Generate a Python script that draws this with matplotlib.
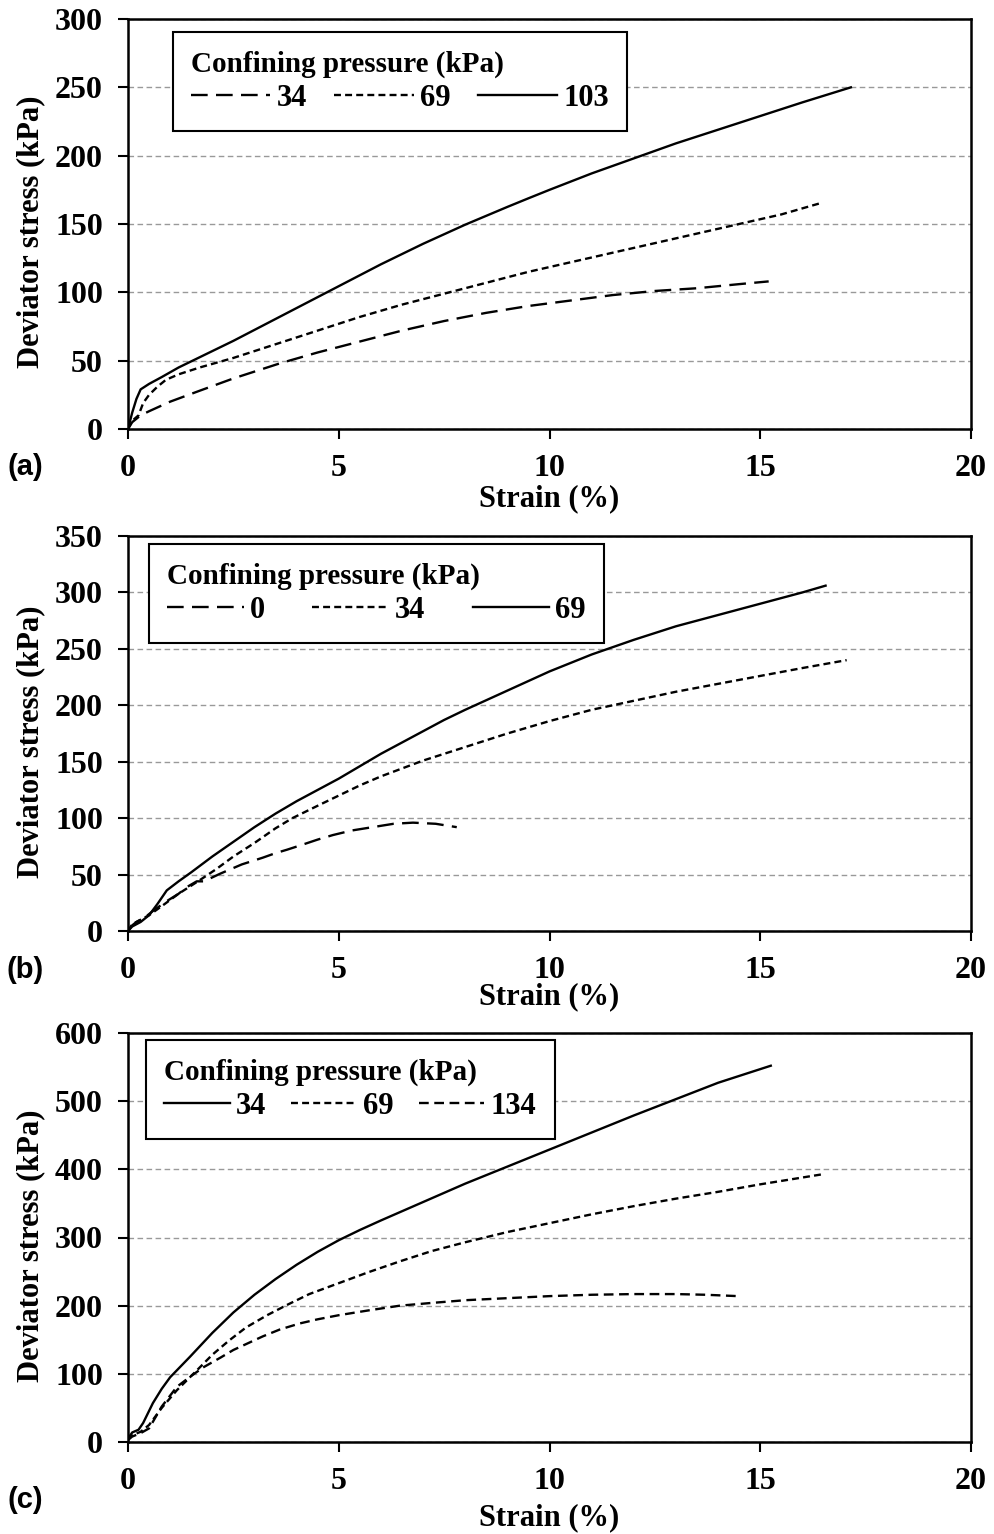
import matplotlib
matplotlib.use('agg')
import matplotlib.pyplot as plt

plt.rcParams['font.family'] = ['Liberation Serif', 'DejaVu Serif']
plt.rcParams['font.weight'] = 'bold'
plt.rcParams['axes.labelweight'] = 'bold'
plt.rcParams['lines.scale_dashes'] = False

# panel (a): confining pressure 34 / 69 / 103 kPa
a34_x = [0, 0.1, 0.3, 0.5, 1, 1.7, 2.5, 3.6, 4.5, 5.5, 6.5, 7.5, 8.5, 9.5, 10.5, 11.5, 12.5, 13.5, 14.5, 15.2]
a34_y = [0, 5, 10, 13, 20, 28, 37, 48, 56, 64, 72, 79, 85, 90, 94, 98, 101, 103, 106, 108]
a69_x = [0, 0.1, 0.25, 0.36, 0.5, 0.7, 0.9, 1.2, 1.7, 2.5, 3.5, 4.5, 5.5, 6.5, 7.5, 8.5, 9.5, 10.5,
         11.5, 12.5, 13.5, 14.5, 15.5, 16.4]
a69_y = [0, 6, 10, 19, 25, 31, 36, 40, 45, 52, 62, 72, 82, 91, 99, 107, 115, 122,
         129, 136, 143, 150, 157, 165]
a103_x = [0, 0.1, 0.2, 0.3, 0.5, 0.8, 1.2, 1.6, 2, 2.5, 3, 3.5, 4, 4.5, 5, 5.5, 6, 6.5, 7, 7.5, 8,
          8.5, 9, 9.5, 10, 11, 12, 13, 14, 15, 16, 17.15]
a103_y = [0, 12, 22, 29, 33, 38, 45, 51, 57, 64.5, 72.5, 80.5, 88.5, 96.5, 104.5, 112.5, 120.5, 128, 135.5, 142.5, 149.5,
          156, 162.5, 168.8, 175, 187, 198, 209, 219, 229, 239, 250]

# panel (b): confining pressure 0 / 34 / 69 kPa
b0_x = [0, 0.1, 0.2, 0.4, 0.6, 0.9, 1.2, 1.4, 1.63, 1.8, 2.2, 2.7, 3.2, 3.5, 3.77, 4.1, 4.5, 4.86,
        5.3, 5.8, 6.3, 6.76, 7.3, 7.8]
b0_y = [0, 5, 8, 12, 18, 26, 33, 39, 44, 44, 51, 59, 65, 69, 72, 76, 81, 85,
        89, 92, 95, 96, 95, 92]
b34_x = [0, 0.1, 0.3, 0.5, 0.8, 1.2, 1.7, 2.1, 2.5, 3, 3.5, 3.9, 4.5, 5, 5.5, 6, 6.5, 7, 7.5, 8,
         9, 10, 11, 12, 13, 14, 15, 16, 17.05]
b34_y = [0, 6, 10, 14, 22, 33, 45, 55, 66, 78, 91, 100, 111, 120, 129, 137, 144, 151, 157, 163,
         175, 186, 196, 204, 212, 219, 226, 233, 240]
b69_x = [0, 0.1, 0.3, 0.5, 0.7, 0.92, 1.2, 1.5, 2, 2.5, 3, 3.5, 4, 4.5, 5, 5.5, 6, 6.5, 7, 7.5, 8,
         9, 10, 11, 12, 13, 14, 15, 16, 16.55]
b69_y = [0, 4, 8, 14, 24, 36, 44, 52, 66, 79, 92, 104, 115, 125, 135, 146, 157, 167, 177, 187, 196,
         213, 230, 245, 258, 270, 280, 290, 300, 306]

# panel (c): confining pressure 34 / 69 / 134 kPa
c34_x = [0, 0.1, 0.25, 0.36, 0.59, 0.8, 1, 1.47, 2, 2.5, 3, 3.5, 4, 4.5, 5, 5.5, 6, 7, 8, 9,
         10, 11, 12, 13, 14, 15.25]
c34_y = [5, 14, 18, 28, 57, 78, 95, 125, 160, 190, 216, 239, 260, 279, 296, 311, 325, 352, 379, 404,
         429, 454, 479, 503, 527, 552]
c69_x = [0, 0.1, 0.3, 0.5, 0.8, 1.16, 1.6, 2, 2.4, 2.8, 3.3, 3.77, 4.3, 5, 5.7, 6.45, 7.2, 8, 9,
         10, 11, 12, 13, 14, 15, 16.5]
c69_y = [3, 10, 15, 25, 50, 76, 103, 128, 149, 168, 186, 201, 217, 233, 249, 265, 280, 293, 308,
         321, 334, 346, 357, 367, 378, 393]
c134_x = [0, 0.1, 0.3, 0.5, 0.8, 1.16, 1.5, 1.8, 2.2, 2.5, 3.2, 3.6, 4.08, 4.5, 5, 5.7, 6.45, 7.2,
          8, 9, 10, 11, 12, 13, 13.7, 14.47]
c134_y = [3, 8, 13, 20, 52, 81, 97, 110, 124, 135, 155, 165, 174, 180, 186, 193, 200, 204,
          208, 211, 214, 216, 217, 217, 216, 214]

xticks = [0, 5, 10, 15, 20]
yticks_a = [0, 50, 100, 150, 200, 250, 300]
yticks_b = [0, 50, 100, 150, 200, 250, 300, 350]
yticks_c = [0, 100, 200, 300, 400, 500, 600]

long_dash = (0, (12, 6))
short_dash = (0, (5, 3))
mid_dash = (0, (7, 4))

fig = plt.figure(figsize=(9.94, 15.34), dpi=100)


def make_axes(rect, yticks, tag, tag_y, xlab_y):
    ax = fig.add_axes(rect)
    ax.set_xlim(0, 20)
    ax.set_ylim(yticks[0], yticks[-1])
    ax.set_xticks(xticks)
    ax.set_yticks(yticks)
    ax.tick_params(direction='out', length=7, width=1.5, labelsize=23, pad=11)
    for s in ax.spines.values():
        s.set_linewidth(1.8)
    ax.yaxis.grid(True, color='#999999', linestyle=(0, (4, 2.5)), linewidth=1)
    ax.set_axisbelow(True)
    ax.set_ylabel('Deviator stress (kPa)', fontsize=22, fontweight='bold')
    ax.yaxis.set_label_coords(-0.098, 0.48)
    ax.set_xlabel('Strain (%)', fontsize=22, fontweight='bold')
    ax.xaxis.set_label_coords(0.5, xlab_y)
    ax.xaxis.label.set_verticalalignment('center')
    fig.text(25 / 994, 1 - tag_y / 1534, tag, fontsize=21, fontweight='bold',
             family=['Liberation Sans', 'DejaVu Sans'], ha='center', va='center')
    return ax


def add_legend(ax, anchor, hlen):
    # anchor = (left, top, width) in axes fraction; box stretched to width
    leg = ax.legend(loc='upper left', bbox_to_anchor=(anchor[0], anchor[1], anchor[2], 0),
                    mode='expand', borderaxespad=0,
                    ncol=3, title='Confining pressure (kPa)', alignment='left',
                    title_fontproperties={'size': 21, 'weight': 'bold'},
                    prop={'size': 22, 'weight': 'bold'}, handlelength=hlen,
                    handletextpad=0.2, columnspacing=0.6, fancybox=False,
                    frameon=True, edgecolor='black', framealpha=1,
                    borderpad=0.6, labelspacing=0.2)
    leg.get_frame().set_linewidth(1.5)
    return leg


lw = 1.7

# (a)
ax = make_axes([128 / 994, 1 - 429 / 1534, 843 / 994, 410 / 1534], yticks_a, '(a)', 467, -0.17)
ax.plot(a34_x, a34_y, color='black', lw=lw, linestyle=long_dash, label='34')
ax.plot(a69_x, a69_y, color='black', lw=lw, linestyle=short_dash, label='69')
ax.plot(a103_x, a103_y, color='black', lw=lw, linestyle='-', label='103')
add_legend(ax, (0.053, 0.968, 0.539), 2.6)

# (b)
ax = make_axes([128 / 994, 1 - 931 / 1534, 843 / 994, 395 / 1534], yticks_b, '(b)', 970, -0.167)
ax.plot(b0_x, b0_y, color='black', lw=lw, linestyle=long_dash, label='0')
ax.plot(b34_x, b34_y, color='black', lw=lw, linestyle=short_dash, label='34')
ax.plot(b69_x, b69_y, color='black', lw=lw, linestyle='-', label='69')
add_legend(ax, (0.025, 0.980, 0.540), 2.5)

# (c)
ax = make_axes([128 / 994, 1 - 1442 / 1534, 843 / 994, 409 / 1534], yticks_c, '(c)', 1500, -0.186)
ax.plot(c34_x, c34_y, color='black', lw=lw, linestyle='-', label='34')
ax.plot(c69_x, c69_y, color='black', lw=lw, linestyle=short_dash, label='69')
ax.plot(c134_x, c134_y, color='black', lw=lw, linestyle=mid_dash, label='134')
add_legend(ax, (0.021, 0.983, 0.485), 2.15)

plt.savefig('out.png', dpi=100)
plt.close('all')
